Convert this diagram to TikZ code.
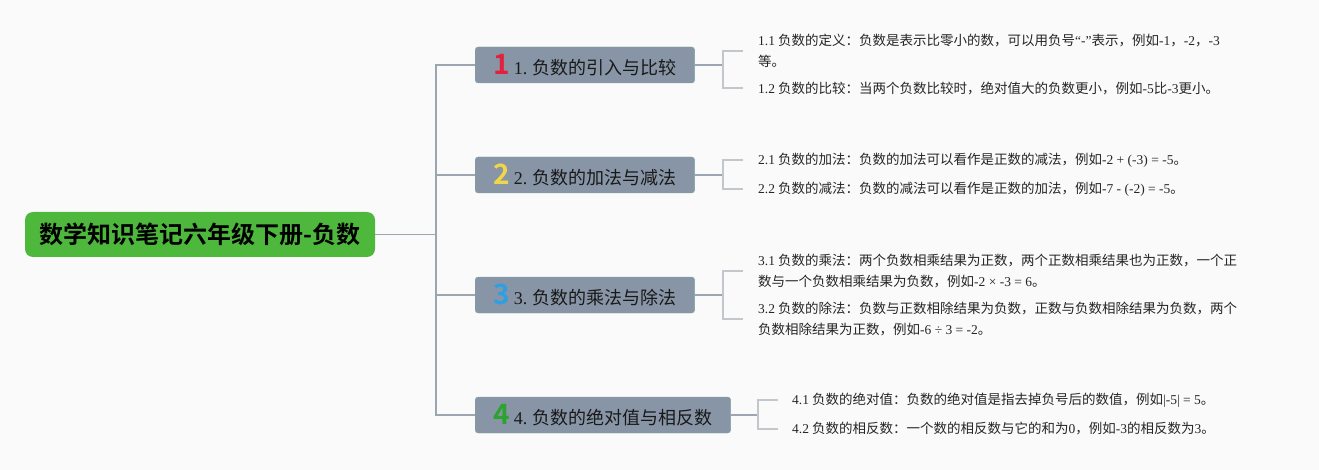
\documentclass[tikz,border=0pt]{standalone}
\usepackage{fontspec}
\setmainfont{Noto Sans CJK SC}[BoldFont={Noto Sans CJK SC Bold}]
\newfontfamily\latfont{Liberation Serif}
\newcommand{\lat}[1]{{\latfont #1}}
\newcommand{\numicon}[2]{{\color{#1}\bfseries\fontsize{28}{28}\selectfont #2}}
\definecolor{bgcol}{HTML}{FAFAFB}
\definecolor{rootcol}{HTML}{4DB83C}
\definecolor{boxcol}{HTML}{8795A6}
\definecolor{boxline}{HTML}{79A79E}
\definecolor{trunkcol}{HTML}{9CA6B3}
\definecolor{twigcol}{HTML}{C3C7CC}
\definecolor{iconred}{HTML}{E2223C}
\definecolor{iconyellow}{HTML}{F2D64A}
\definecolor{iconblue}{HTML}{2E9FE2}
\definecolor{icongreen}{HTML}{2BA32E}

\begin{document}
\begin{tikzpicture} [
    x=1pt, y=-1pt,
    root/.style   = { rectangle, fill=rootcol, rounded corners=8pt,
                      minimum width=350pt, minimum height=45pt,
                      font=\bfseries\fontsize{24}{24}\selectfont, text=black },
    branch/.style = { rectangle, draw=boxline, fill=boxcol, rounded corners=3pt,
                      minimum height=36pt, inner xsep=18pt, inner ysep=0pt, anchor=west,
                      font=\fontsize{18}{20}\selectfont, text=black!90 },
    leaf/.style   = { anchor=west, inner sep=0pt, align=left,
                      font=\fontsize{13.5}{21.5}\selectfont, text=black!85 },
    trunk/.style  = { draw=trunkcol, line width=1.2pt },
    twig/.style   = { draw=twigcol, line width=1.2pt },
  ]

\fill[bgcol] (0,0) rectangle (1319,470);
\useasboundingbox (0,0) rectangle (1319,470);

\node [root] (root) at (200,234.5) {数学知识笔记六年级下册-负数};

\node [branch] (b1) at (475,65)  {\numicon{iconred}{1} \lat{1.} 负数的引入与比较};
\node [branch] (b2) at (475,175) {\numicon{iconyellow}{2} \lat{2.} 负数的加法与减法};
\node [branch] (b3) at (475,295) {\numicon{iconblue}{3} \lat{3.} 负数的乘法与除法};
\node [branch] (b4) at (475,415) {\numicon{icongreen}{4} \lat{4.} 负数的绝对值与相反数};

\node [leaf] (l11) at (758,51)  {\lat{1.1} 负数的定义：负数是表示比零小的数，可以用负号\lat{“-”}表示，例如\lat{-1}，\lat{-2}，\lat{-3}\\等。};
\node [leaf] (l12) at (758,88)  {\lat{1.2} 负数的比较：当两个负数比较时，绝对值大的负数更小，例如\lat{-5}比\lat{-3}更小。};
\node [leaf] (l21) at (758,160) {\lat{2.1} 负数的加法：负数的加法可以看作是正数的减法，例如\lat{-2 + (-3) = -5}。};
\node [leaf] (l22) at (758,189) {\lat{2.2} 负数的减法：负数的减法可以看作是正数的加法，例如\lat{-7 - (-2) = -5}。};
\node [leaf] (l31) at (758,271) {\lat{3.1} 负数的乘法：两个负数相乘结果为正数，两个正数相乘结果也为正数，一个正\\数与一个负数相乘结果为负数，例如\lat{-2 × -3 = 6}。};
\node [leaf] (l32) at (758,319) {\lat{3.2} 负数的除法：负数与正数相除结果为负数，正数与负数相除结果为负数，两个\\负数相除结果为正数，例如\lat{-6 ÷ 3 = -2}。};
\node [leaf] (l41) at (792,400) {\lat{4.1} 负数的绝对值：负数的绝对值是指去掉负号后的数值，例如\lat{|-5| = 5}。};
\node [leaf] (l42) at (792,429) {\lat{4.2} 负数的相反数：一个数的相反数与它的和为\lat{0}，例如\lat{-3}的相反数为\lat{3}。};

\coordinate (trunk) at (436,234.5);
\coordinate (k1) at (723,65);
\coordinate (k2) at (723,175);
\coordinate (k3) at (723,295);
\coordinate (k4) at (758,415);

\begin{scope} [every path/.style=trunk]
    \path (root.east) -- (trunk);
    \path (b1.west) -- (b1.west -| trunk) -- (b4.west -| trunk) -- (b4.west);
    \path (b2.west) -- (b2.west -| trunk);
    \path (b3.west) -- (b3.west -| trunk);
    \path (b1.east) -- (k1);
    \path (b2.east) -- (k2);
    \path (b3.east) -- (k3);
    \path (b4.east) -- (k4);
\end{scope}

\begin{scope} [every path/.style=twig]
    \path ([xshift=-15pt]l11.west) -| (k1) |- ([xshift=-15pt]l12.west);
    \path ([xshift=-15pt]l21.west) -| (k2) |- ([xshift=-15pt]l22.west);
    \path ([xshift=-15pt]l31.west) -| (k3) |- ([xshift=-15pt]l32.west);
    \path ([xshift=-14pt]l41.west) -| (k4) |- ([xshift=-14pt]l42.west);
\end{scope}

\end{tikzpicture}
\end{document}
